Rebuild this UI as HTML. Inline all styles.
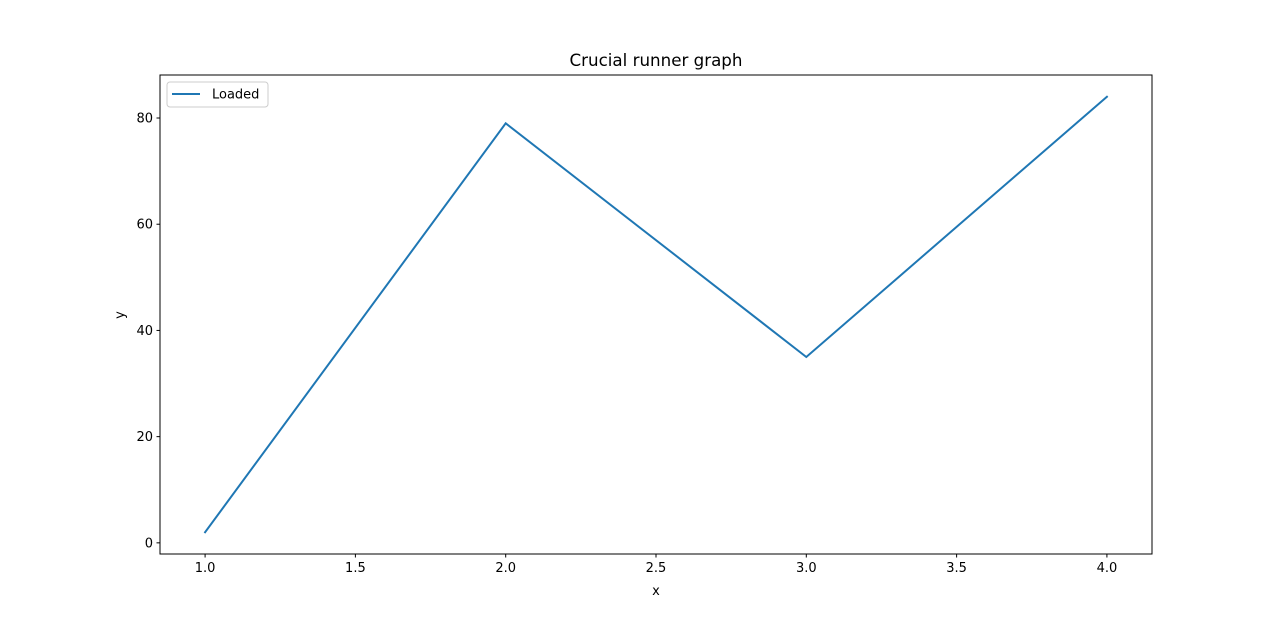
<!DOCTYPE html>
<html><head><meta charset="utf-8"><style>
body{margin:0;background:#fff;}
svg{display:block;font-family:"DejaVu Sans","Liberation Sans",sans-serif;}
</style></head><body>
<svg id="chart" width="1280" height="623" viewBox="0 0 1280 623" xmlns="http://www.w3.org/2000/svg"></svg>
<script>
const xValues=[1,2,3,4];
const loadedValues=[2,79,35,84];
const xTicks=[1.0,1.5,2.0,2.5,3.0,3.5,4.0];
const yTicks=[0,20,40,60,80];
const L=160,R=1152,T=75,B=554;
const xmin=0.85,xmax=4.15,ymin=-2.1,ymax=88.1;
const sx=v=>L+(v-xmin)/(xmax-xmin)*(R-L);
const sy=v=>B-(v-ymin)/(ymax-ymin)*(B-T);
const svg=document.getElementById('chart');
const NS='http://www.w3.org/2000/svg';
function mk(tag,attrs,text){const e=document.createElementNS(NS,tag);for(const k in attrs)e.setAttribute(k,attrs[k]);if(text!==undefined)e.textContent=text;svg.appendChild(e);return e;}
let e;
e=mk('rect',{x:L,y:T,width:R-L,height:B-T,fill:'#fff',stroke:'#000','stroke-width':1});


xTicks.forEach(t=>{
 const x=sx(t);
 e=mk('line',{x1:x,x2:x,y1:B,y2:B+3.5,stroke:'#000'});
 
 
 e=mk('text',{x:x,y:B+18,'font-size':13,'text-anchor':'middle'},t.toFixed(1));
 
 
});
yTicks.forEach(t=>{
 const y=sy(t);
 e=mk('line',{x1:L-3.5,x2:L,y1:y,y2:y,stroke:'#000'});
 
 
 e=mk('text',{x:L-7,y:y+4.5,'font-size':13,'text-anchor':'end'},String(t));
 
 
});
e=mk('polyline',{points:xValues.map((x,i)=>sx(x)+','+sy(loadedValues[i])).join(' '),fill:'none',stroke:'#1f77b4','stroke-width':2,'stroke-linecap':'square'});


e=mk('text',{x:(L+R)/2,y:66,'font-size':16.7,'text-anchor':'middle'},'Crucial runner graph');


e=mk('text',{x:(L+R)/2,y:595,'font-size':13,'text-anchor':'middle'},'x');


e=mk('text',{x:124,y:315,'font-size':13,'text-anchor':'middle',transform:'rotate(-90 124 315)'},'y');


e=mk('rect',{x:167,y:82,width:101,height:25,rx:3,fill:'#fff',stroke:'#ccc'});


e=mk('line',{x1:172,x2:200,y1:94,y2:94,stroke:'#1f77b4','stroke-width':2});


e=mk('text',{x:212,y:98.5,'font-size':13},'Loaded');


</script>
</body></html>
